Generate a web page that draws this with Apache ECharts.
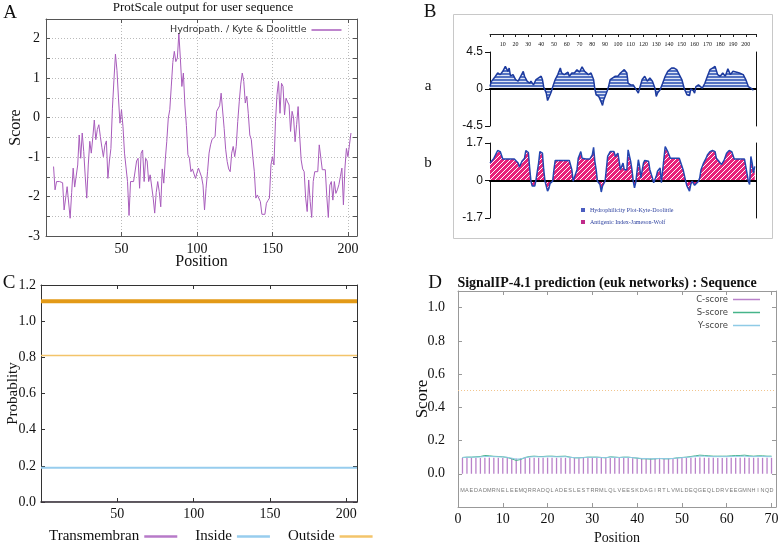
<!DOCTYPE html>
<html>
<head>
<meta charset="utf-8">
<title>Protein sequence analysis</title>
<script src="https://cdn.jsdelivr.net/npm/echarts@6.0.0/dist/echarts.min.js"></script>
<style>
html, body { margin: 0; padding: 0; background: #fff; }
#main { width: 778px; height: 543px; }
</style>
</head>
<body>
<div id="main"></div>
<script>
// A: ProtScale Kyte & Doolittle, one value per residue starting at hydroStartA
const hydroStartA = 5;
const hydroA = [
  -1.24, -1.83, -1.62, -1.62, -1.62, -1.62, -1.65, -2.34, -2.31, -1.75,
  -1.79, -2.55, -1.9, -1.28, -1.76, -1.76, -1.2, -0.44, -1.03, -0.39,
  -0.86, -1.5, -2.04, -1.2, -0.6, -0.9, -0.5, -0.06, -0.56, -0.3,
  -0.18, -0.48, -0.75, -0.99, -0.7, -0.59, -1.54, -1.1, -0.78, 0.24,
  0.95, 1.61, 1.2, 0.5, -0.14, 0.2, -0.23, -0.9, -0.94, -1.62,
  -2.48, -1.62, -1.62, -1.62, -1.62, -1.1, -1.03, -1.79, -0.9, -0.82,
  -1.62, -1.03, -1.1, -1.62, -1.45, -1.49, -2.04, -2.42, -1.9, -1.62,
  -1.87, -2.26, -1.3, -1.66, -1.07, -0.6, -0.01, 0.2, 0.8, 1.4,
  1.68, 1.42, 1.51, 2.14, 1.5, 0.79, 1.13, 0.32, -0.2, -0.94,
  -1.03, -1.37, -1.3, -1.32, -1.54, -1.4, -1.28, -1.32, -1.5, -1.71,
  -2.34, -1.8, -1.37, -0.9, -0.69, -0.55, -0.52, -0.48, 0.16, 0.2,
  0.3, 0.62, 0.62, -0.27, -0.8, -1.11, -1.3, -1.37, -0.9, -0.73,
  -0.99, -0.73, -0.1, 0.4, 0.85, 1.13, 0.92, 0.37, 0.54, 0.1,
  -0.44, -0.56, -1.0, -1.37, -2.04, -1.96, -1.92, -2.13, -2.45, -2.45,
  -2.45, -2.17, -2.1, -2.04, -1.2, -0.99, -1.2, -0.1, 0.58, 0.92,
  0.11, 0.87, 0.79, 0.07, 0.49, 0.4, 0.32, -0.35, 0.16, -0.01,
  -0.61, -0.18, 0.28, -0.44, -1.07, -1.3, -1.37, -2.04, -2.38, -1.58,
  -2.13, -2.53, -1.62, -1.37, -1.37, -1.37, -0.69, -0.73, -1.32, -1.32,
  -1.32, -2.0, -2.53, -1.71, -1.62, -2.09, -1.62, -1.92, -1.83, -1.7,
  -1.49, -1.28, -2.21, -1.28, -0.78, -0.99, -0.69, -0.39
];

// B a: hydrophilicity (Kyte-Doolittle)
const hydroPosB = [0, 1, 4, 6, 8, 10, 12, 14, 15, 16, 18, 20, 22, 24, 26, 27, 29, 31, 32, 34,
  36, 38, 40, 41, 42, 44, 45, 47, 48, 49, 51, 53, 55, 56, 58, 61, 62, 64, 66, 68,
  70, 72, 74, 75, 77, 79, 81, 82, 83, 85, 87, 88, 89, 90, 92, 93, 94, 96, 98, 100,
  102, 105, 107, 108, 110, 112, 116, 117, 119, 121, 123, 125, 127, 129, 130, 131, 133, 135, 137, 139,
  142, 144, 146, 148, 150, 152, 154, 155, 156, 157, 159, 160, 161, 163, 164, 166, 168, 170, 172, 174,
  176, 178, 180, 182, 184, 186, 188, 190, 193, 195, 198, 200, 202, 204, 206];
const hydroValB = [0.3, 0.9, 1.5, 1.95, 1.75, 2.15, 2.75, 2.15, 2.55, 1.6, 1.75, 1.15, 0.95, 1.55, 2.15, 1.55, 0.95, 0.7, 0.95, 0.5,
  1.15, 1.35, 1.55, 1.15, 0.25, -0.5, -1.4, -0.7, -0.3, 0.25, 1.15, 1.75, 2.55, 1.95, 1.75, 2.05, 1.55, 1.95, 1.95, 2.35,
  2.05, 2.7, 2.15, 2.35, 1.75, 1.95, 1.15, 0, -0.7, -0.9, -1.6, -2.0, -1.3, -0.9, -0.1, 0.5, 1.15, 1.35, 1.55, 1.55,
  1.95, 2.35, 1.95, 0.7, 0.5, 0.5, -0.5, 0.1, 1.15, 1.55, 0.95, 1.35, 0.95, 0.1, -0.9, -0.5, -0.1, 0.7, 1.55, 2.15,
  2.55, 2.55, 2.35, 1.75, 1.15, 0, -0.7, -0.5, -0.8, 0, -0.2, -0.5, 0.3, 0.5, 0.7, 0.1, 0.7, 1.55, 2.35, 2.55,
  2.75, 1.75, 1.55, 1.95, 1.55, 2.45, 1.75, 2.15, 2.05, 1.95, 1.75, 1.15, 0.3, 0.1, -0.15];

// B b: antigenic index (Jameson-Wolf)
const antiPosB = [0, 1, 3, 5, 6, 8, 10, 12, 16, 19, 22, 23, 25, 27, 28, 30, 31, 32, 33, 35,
  36, 38, 39, 40, 41, 42, 43, 45, 46, 47, 49, 50, 51, 53, 58, 62, 64, 65, 66, 68,
  69, 71, 72, 75, 78, 80, 81, 82, 83, 84, 86, 87, 88, 90, 91, 92, 94, 95, 97, 98,
  100, 101, 102, 104, 105, 107, 108, 110, 111, 112, 113, 114, 116, 117, 118, 120, 121, 124, 125, 127,
  128, 130, 131, 132, 133, 134, 135, 137, 138, 139, 141, 143, 148, 151, 153, 154, 156, 157, 158, 160,
  161, 163, 164, 165, 167, 169, 170, 172, 174, 176, 177, 179, 181, 183, 185, 187, 189, 191, 195, 199,
  200, 202, 203, 204, 205, 206, 207];
const antiValB = [0.79, 0.87, 1.0, 1.24, 1.36, 1.31, 0.97, 0.97, 0.97, 0.97, 0.79, 0.61, 0.87, 1.01, 1.36, 1.27, 0.57, -0.03, -0.25, -0.25,
  0.04, 0.79, 1.31, 1.36, 1.24, 0.49, -0.03, -0.48, -0.37, -0.13, -0.03, 0.49, 0.91, 0.91, 0.91, 0.91, 0.49, -0.03, -0.1, 0.49,
  1.01, 1.31, 1.01, 0.97, 0.97, 1.16, 1.5, 0.87, 0.49, -0.03, -0.18, -0.52, -0.25, -0.03, -0.03, 1.09, 1.31, 1.24, 1.31, 1.09,
  1.24, 0.87, 0.49, 0.79, 0.49, 0.49, 1.39, 0.87, 0.49, -0.03, -0.33, -0.07, 0.94, 0.64, 0.12, 0.79, 0.91, 0.87, 0.49, 0.12,
  -0.1, 0.19, 0.42, 0.34, 0.57, -0.1, -0.03, 1.54, 1.57, 1.31, 1.01, 1.01, 1.01, 0.49, -0.03, -0.25, -0.48, -0.18, -0.03, -0.22,
  -0.22, -0.03, 0.12, 0.49, 0.79, 1.01, 1.16, 1.31, 1.36, 1.31, 1.01, 0.87, 0.72, 0.91, 1.24, 1.36, 1.31, 0.97, 0.97, 0.97,
  0.64, -0.03, -0.18, 1.09, 0.79, 0.34, 0.64];

// C: TMHMM, flat probabilities
const tmPosC = [0, 207];
const transmemC = [0, 0];
const insideC = [0.19, 0.19];
const outsideC = [0.81, 0.81];
const topologyC = [1.11, 1.11];

// D: SignalP 4.1, positions 1..70
const seqD = 'MAEDADMRNELEEMQRRADQLADESLESTRRMLQLVEESKDAGIRTLVMLDEQGEQLDRVEEGMNHINQD'.split('');
const cScoreD = [0.095, 0.096, 0.096, 0.095, 0.095, 0.096, 0.097, 0.096, 0.096, 0.095,
  0.095, 0.094, 0.092, 0.094, 0.095, 0.096, 0.096, 0.096, 0.096, 0.097,
  0.097, 0.096, 0.096, 0.096, 0.095, 0.094, 0.094, 0.095, 0.095, 0.096,
  0.095, 0.095, 0.094, 0.095, 0.095, 0.095, 0.095, 0.095, 0.094, 0.093,
  0.092, 0.092, 0.092, 0.092, 0.093, 0.092, 0.092, 0.093, 0.094, 0.095,
  0.095, 0.096, 0.097, 0.098, 0.097, 0.096, 0.096, 0.095, 0.095, 0.096,
  0.096, 0.097, 0.097, 0.097, 0.096, 0.096, 0.096, 0.096, 0.096, 0.096];
const sScoreD = [0.098, 0.1, 0.1, 0.102, 0.104, 0.11, 0.108, 0.105, 0.104, 0.102,
  0.098, 0.09, 0.08, 0.086, 0.098, 0.104, 0.106, 0.104, 0.104, 0.106,
  0.106, 0.104, 0.105, 0.106, 0.1, 0.096, 0.096, 0.098, 0.1, 0.1,
  0.1, 0.098, 0.096, 0.102, 0.1, 0.098, 0.1, 0.1, 0.097, 0.094,
  0.09, 0.09, 0.088, 0.09, 0.092, 0.09, 0.09, 0.092, 0.096, 0.098,
  0.1, 0.104, 0.108, 0.112, 0.11, 0.108, 0.106, 0.106, 0.106, 0.106,
  0.108, 0.11, 0.11, 0.112, 0.108, 0.106, 0.108, 0.108, 0.106, 0.106];
const yScoreD = [0.098, 0.099, 0.1, 0.1, 0.101, 0.104, 0.104, 0.103, 0.102, 0.101,
  0.099, 0.094, 0.088, 0.09, 0.097, 0.101, 0.103, 0.102, 0.102, 0.103,
  0.103, 0.102, 0.102, 0.103, 0.099, 0.097, 0.096, 0.097, 0.099, 0.099,
  0.099, 0.098, 0.097, 0.1, 0.099, 0.098, 0.099, 0.099, 0.097, 0.095,
  0.092, 0.092, 0.09, 0.091, 0.092, 0.091, 0.091, 0.092, 0.095, 0.097,
  0.099, 0.101, 0.104, 0.106, 0.106, 0.104, 0.103, 0.103, 0.103, 0.103,
  0.104, 0.105, 0.105, 0.106, 0.104, 0.103, 0.104, 0.104, 0.103, 0.103];

const serif = 'Liberation Serif';
const sans = 'DejaVu Sans';

// hatched fills for panel B
function hatch(bg, fg, kind) {
  const c = document.createElement('canvas');
  const s = kind === 'h' ? 3 : 5;
  c.width = s; c.height = s;
  const ctx = c.getContext('2d');
  ctx.fillStyle = bg;
  ctx.fillRect(0, 0, s, s);
  ctx.strokeStyle = fg;
  ctx.lineWidth = 1;
  ctx.beginPath();
  if (kind === 'h') {
    ctx.moveTo(0, 0.5); ctx.lineTo(s, 0.5);
  } else {
    ctx.moveTo(-1, s + 1); ctx.lineTo(s + 1, -1);
  }
  ctx.stroke();
  return { image: c, repeat: 'repeat' };
}

const pairs = (xs, ys) => xs.map((x, i) => [x, ys[i]]);

// mirrored axis (box side) without labels
function mirror(gridIndex, position, min, max, interval, color) {
  return {
    gridIndex: gridIndex, type: 'value', position: position,
    min: min, max: max, interval: interval,
    axisLine: { onZero: false, lineStyle: { color: color } },
    axisTick: { inside: true, length: 4, lineStyle: { color: color } },
    axisLabel: { show: false },
    splitLine: { show: false }
  };
}

const chart = echarts.init(document.getElementById('main'));

const option = {
  animation: false,
  backgroundColor: '#fff',
  grid: [
    { left: 46, top: 19, width: 311, height: 217, outerBoundsMode: 'none' },   // A
    { left: 490, top: 52, width: 266, height: 74, outerBoundsMode: 'none' },   // B a
    { left: 490, top: 143, width: 266, height: 75, outerBoundsMode: 'none' },  // B b
    { left: 41, top: 285, width: 316, height: 217, outerBoundsMode: 'none' },  // C
    { left: 458, top: 291, width: 318, height: 216, outerBoundsMode: 'none' }  // D
  ],
  xAxis: [
    {
      gridIndex: 0, type: 'value', min: 0, max: 206, interval: 50,
      axisLine: { onZero: false, lineStyle: { color: '#555' } },
      axisTick: { inside: true, length: 4, lineStyle: { color: '#555' } },
      axisLabel: { formatter: v => (v > 0 && v % 50 === 0 ? v : ''), fontFamily: serif, fontSize: 14, color: '#111', margin: 6 },
      splitLine: { show: true, lineStyle: { color: '#bbb', type: [1, 2] } },
      name: 'Position', nameLocation: 'middle', nameGap: 18, nameMoveOverlap: false,
      nameTextStyle: { fontFamily: serif, fontSize: 16, color: '#111' }
    },
    mirror(0, 'top', 0, 206, 50, '#555'),
    {
      gridIndex: 1, type: 'value', position: 'top', offset: 18, min: 0, max: 208, interval: 10,
      axisLine: { onZero: false, lineStyle: { color: '#222' } },
      axisTick: { inside: true, length: 3, lineStyle: { color: '#222' } },
      axisLabel: { inside: true, margin: 7, formatter: v => (v > 0 && v <= 200 ? v : ''), fontFamily: serif, fontSize: 6, color: '#111' },
      splitLine: { show: false }
    },
    {
      gridIndex: 1, type: 'value', min: 0, max: 208, z: 3,
      axisLine: { onZero: true, lineStyle: { color: '#000', width: 2 } },
      axisTick: { show: false }, axisLabel: { show: false }, splitLine: { show: false }
    },
    {
      gridIndex: 2, type: 'value', min: 0, max: 208, z: 3,
      axisLine: { onZero: true, lineStyle: { color: '#000', width: 2 } },
      axisTick: { show: false }, axisLabel: { show: false }, splitLine: { show: false }
    },
    {
      gridIndex: 3, type: 'value', min: 0, max: 207, interval: 50, z: 5,
      axisLine: { onZero: false, lineStyle: { color: '#333', width: 1.5 } },
      axisTick: { inside: true, length: 4, lineStyle: { color: '#333' } },
      axisLabel: { formatter: v => (v > 0 && v % 50 === 0 ? v : ''), fontFamily: serif, fontSize: 14, color: '#111', margin: 5 },
      splitLine: { show: false }
    },
    mirror(3, 'top', 0, 207, 50, '#333'),
    {
      gridIndex: 4, type: 'value', min: 0, max: 71, interval: 10,
      axisLine: { onZero: false, lineStyle: { color: '#999' } },
      axisTick: { inside: true, length: 4, lineStyle: { color: '#999' } },
      axisLabel: { formatter: v => (v % 10 === 0 ? v : ''), fontFamily: serif, fontSize: 14, color: '#111', margin: 5 },
      splitLine: { show: false },
      name: 'Position', nameLocation: 'middle', nameGap: 24, nameMoveOverlap: false,
      nameTextStyle: { fontFamily: serif, fontSize: 14, color: '#111' }
    },
    mirror(4, 'top', 0, 71, 10, '#999')
  ],
  yAxis: [
    {
      gridIndex: 0, type: 'value', min: -3, max: 2.5, interval: 0.5,
      axisLine: { onZero: false, lineStyle: { color: '#555' } },
      axisTick: { inside: true, length: 4, lineStyle: { color: '#555' } },
      axisLabel: { formatter: v => (Number.isInteger(v) ? v : ''), fontFamily: serif, fontSize: 14, color: '#111', margin: 6 },
      splitLine: { show: true, lineStyle: { color: '#bbb', type: [1, 2] } },
      name: 'Score', nameLocation: 'middle', nameGap: 22, nameRotate: 90, nameMoveOverlap: false,
      nameTextStyle: { fontFamily: serif, fontSize: 16, color: '#111' }
    },
    mirror(0, 'right', -3, 2.5, 0.5, '#555'),
    {
      gridIndex: 1, type: 'value', min: -4.5, max: 4.5, interval: 4.5,
      axisLine: { onZero: false, lineStyle: { color: '#111' } },
      axisTick: { length: 5, lineStyle: { color: '#111' } },
      axisLabel: { fontFamily: 'Liberation Sans', fontSize: 12, color: '#111', margin: 7 },
      splitLine: { show: false }
    },
    {
      gridIndex: 1, type: 'value', position: 'right', min: -4.5, max: 4.5,
      axisLine: { onZero: false, lineStyle: { color: '#111' } },
      axisTick: { show: false }, axisLabel: { show: false }, splitLine: { show: false }
    },
    {
      gridIndex: 2, type: 'value', min: -1.7, max: 1.7, interval: 1.7,
      axisLine: { onZero: false, lineStyle: { color: '#111' } },
      axisTick: { length: 5, lineStyle: { color: '#111' } },
      axisLabel: { fontFamily: 'Liberation Sans', fontSize: 12, color: '#111', margin: 7 },
      splitLine: { show: false }
    },
    {
      gridIndex: 2, type: 'value', position: 'right', min: -1.7, max: 1.7,
      axisLine: { onZero: false, lineStyle: { color: '#111' } },
      axisTick: { show: false }, axisLabel: { show: false }, splitLine: { show: false }
    },
    {
      gridIndex: 3, type: 'value', min: 0, max: 1.2, interval: 0.2,
      axisLine: { onZero: false, lineStyle: { color: '#333' } },
      axisTick: { inside: true, length: 4, lineStyle: { color: '#333' } },
      axisLabel: { formatter: v => v.toFixed(1), fontFamily: serif, fontSize: 14, color: '#111', margin: 5 },
      splitLine: { show: false },
      name: 'Probablity', nameLocation: 'middle', nameGap: 20, nameRotate: 90, nameMoveOverlap: false,
      nameTextStyle: { fontFamily: serif, fontSize: 15, color: '#111' }
    },
    mirror(3, 'right', 0, 1.2, 0.2, '#333'),
    {
      gridIndex: 4, type: 'value', min: -0.2, max: 1.1, interval: 0.2,
      axisLine: { onZero: false, lineStyle: { color: '#999' } },
      axisTick: { inside: true, length: 4, lineStyle: { color: '#999' } },
      axisLabel: { formatter: v => (v > -0.05 && v < 1.05 ? v.toFixed(1) : ''), fontFamily: serif, fontSize: 14, color: '#111', margin: 13 },
      splitLine: { show: false },
      name: 'Score', nameLocation: 'middle', nameGap: 27, nameRotate: 90, nameMoveOverlap: false,
      nameTextStyle: { fontFamily: serif, fontSize: 17, color: '#111' }
    },
    mirror(4, 'right', -0.2, 1.1, 0.2, '#999')
  ],
  legend: [
    {
      left: 165, top: 20, align: 'right', icon: 'rect', itemWidth: 30, itemHeight: 1.5,
      selectedMode: false,
      data: ['Hydropath. / Kyte & Doolittle'],
      textStyle: { fontFamily: sans, fontSize: 9.5, color: '#333' }
    },
    {
      left: 576, top: 202, orient: 'vertical', icon: 'rect', itemWidth: 4, itemHeight: 4, itemGap: 6,
      selectedMode: false,
      data: [
        { name: 'Hydrophilicity Plot-Kyte-Doolittle', itemStyle: { color: '#4a5cc0' } },
        { name: 'Antigenic Index-Jameson-Wolf', itemStyle: { color: '#c02a8a' } }
      ],
      textStyle: { fontFamily: serif, fontSize: 6, color: '#2b3f9e' }
    },
    {
      left: 44, top: 524, align: 'right', icon: 'rect', itemWidth: 33, itemHeight: 2.5, itemGap: 18,
      selectedMode: false,
      data: ['Transmembran', 'Inside', 'Outside'],
      textStyle: { fontFamily: serif, fontSize: 15, color: '#111' }
    },
    {
      right: 13, top: 290, orient: 'vertical', align: 'right', icon: 'rect', itemWidth: 27, itemHeight: 1.5, itemGap: 4,
      selectedMode: false,
      data: ['C-score', 'S-score', 'Y-score'],
      textStyle: { fontFamily: sans, fontSize: 8.5, color: '#444' }
    }
  ],
  graphic: [
    { type: 'rect', shape: { x: 453.5, y: 14.5, width: 319, height: 224 }, style: { fill: 'none', stroke: '#c8c8c8', lineWidth: 1 } },
    { type: 'text', x: 10, y: 13, style: { text: 'A', fontFamily: serif, fontSize: 19, fill: '#111', align: 'center', verticalAlign: 'middle' } },
    { type: 'text', x: 203, y: 8, style: { text: 'ProtScale output for user sequence', fontFamily: serif, fontSize: 13, fill: '#111', align: 'center', verticalAlign: 'middle' } },
    { type: 'text', x: 430, y: 12, style: { text: 'B', fontFamily: serif, fontSize: 19, fill: '#111', align: 'center', verticalAlign: 'middle' } },
    { type: 'text', x: 428, y: 86, style: { text: 'a', fontFamily: serif, fontSize: 15, fill: '#111', align: 'center', verticalAlign: 'middle' } },
    { type: 'text', x: 428, y: 163, style: { text: 'b', fontFamily: serif, fontSize: 15, fill: '#111', align: 'center', verticalAlign: 'middle' } },
    { type: 'text', x: 9, y: 283, style: { text: 'C', fontFamily: serif, fontSize: 19, fill: '#111', align: 'center', verticalAlign: 'middle' } },
    { type: 'text', x: 435, y: 283, style: { text: 'D', fontFamily: serif, fontSize: 19, fill: '#111', align: 'center', verticalAlign: 'middle' } },
    { type: 'text', x: 607, y: 283, style: { text: 'SignalIP-4.1 prediction (euk networks) : Sequence', fontFamily: serif, fontWeight: 'bold', fontSize: 14, fill: '#111', align: 'center', verticalAlign: 'middle' } }
  ],
  series: [
    {
      name: 'Hydropath. / Kyte & Doolittle', type: 'line', xAxisIndex: 0, yAxisIndex: 0,
      data: hydroA.map((v, i) => [i + hydroStartA, v]),
      symbol: 'none', color: '#a85cbc', lineStyle: { width: 1, color: '#a85cbc' }
    },
    {
      name: 'Hydrophilicity Plot-Kyte-Doolittle', type: 'line', xAxisIndex: 3, yAxisIndex: 2,
      data: pairs(hydroPosB, hydroValB),
      symbol: 'none', color: '#1c3a9e', lineStyle: { width: 1.5, color: '#1c3a9e' },
      areaStyle: { color: hatch('#5573c2', '#dfe5f5', 'h'), opacity: 1 }
    },
    {
      name: 'Antigenic Index-Jameson-Wolf', type: 'line', xAxisIndex: 4, yAxisIndex: 4,
      data: pairs(antiPosB, antiValB),
      symbol: 'none', color: '#2346b0', lineStyle: { width: 1.5, color: '#2346b0' },
      areaStyle: { color: hatch('#e8237a', '#ffffff', 'd'), opacity: 1 }
    },
    {
      name: 'Topology', type: 'line', xAxisIndex: 5, yAxisIndex: 6,
      data: pairs(tmPosC, topologyC), symbol: 'none',
      color: '#e39a17', lineStyle: { width: 4, color: '#e39a17' }
    },
    {
      name: 'Transmembran', type: 'line', xAxisIndex: 5, yAxisIndex: 6, z: 1,
      data: pairs(tmPosC, transmemC), symbol: 'none',
      color: '#b77ac8', lineStyle: { width: 1, color: '#b77ac8' }
    },
    {
      name: 'Inside', type: 'line', xAxisIndex: 5, yAxisIndex: 6,
      data: pairs(tmPosC, insideC), symbol: 'none',
      color: '#97cdee', lineStyle: { width: 2, color: '#97cdee' }
    },
    {
      name: 'Outside', type: 'line', xAxisIndex: 5, yAxisIndex: 6,
      data: pairs(tmPosC, outsideC), symbol: 'none',
      color: '#f3c46a', lineStyle: { width: 1.5, color: '#f3c46a' }
    },
    {
      name: 'C-score', type: 'bar', xAxisIndex: 7, yAxisIndex: 8,
      data: cScoreD.map((v, i) => [i + 1, v]),
      barWidth: 1.3, color: '#b982ca', itemStyle: { color: '#b982ca' },
      markLine: {
        silent: true, symbol: 'none', label: { show: false },
        lineStyle: { color: '#f2c58e', type: [1, 2], width: 1 },
        data: [{ yAxis: 0.5 }]
      }
    },
    {
      name: 'S-score', type: 'line', xAxisIndex: 7, yAxisIndex: 8,
      data: sScoreD.map((v, i) => [i + 1, v]), symbol: 'none',
      color: '#46b48a', lineStyle: { width: 1, color: '#46b48a' }
    },
    {
      name: 'Y-score', type: 'line', xAxisIndex: 7, yAxisIndex: 8,
      data: yScoreD.map((v, i) => [i + 1, v]), symbol: 'none',
      color: '#8fcbe6', lineStyle: { width: 1, color: '#8fcbe6' }
    },
    {
      name: 'sequence', type: 'scatter', xAxisIndex: 7, yAxisIndex: 8,
      data: seqD.map((a, i) => [i + 1, -0.1, a]),
      symbolSize: 0.1, itemStyle: { color: 'transparent' }, silent: true,
      label: { show: true, position: 'inside', formatter: p => p.data[2], fontFamily: 'Liberation Sans', fontSize: 5.5, color: '#555' }
    }
  ]
};

chart.setOption(option);
</script>
</body>
</html>
